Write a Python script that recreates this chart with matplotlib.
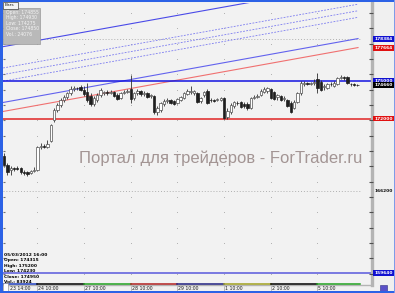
import matplotlib
matplotlib.use("Agg")
import matplotlib.pyplot as plt
import numpy as np
from matplotlib.patches import Rectangle
import matplotlib.transforms as mtransforms

# ---------------- data (hourly bars, 23 Feb 14:00 .. 5 Mar) ----------------
opens = [169000, 168280, 167880, 168040, 168040, 168040, 167720, 167720, 167640, 167800,
         167880, 169720, 169800, 169720, 170200, 171880, 172680, 173080, 173480, 173720,
         174040, 174360, 174440, 174520, 174280, 174120, 173800, 173160, 173480, 173880,
         174040, 174120, 174040, 174120, 173880, 173640, 174040, 174120, 174360, 173640,
         174040, 174200, 173960, 174040, 173800, 173800, 172520, 172680, 173160, 173400,
         173480, 173400, 173240, 173480, 173640, 173960, 174120, 174040, 174040, 173400,
         173880, 174200, 173480, 173480, 173480, 173480, 173640, 172120, 172520, 173000,
         173240, 173320, 173160, 173160, 172840, 173640, 173720, 173880, 174120, 174200,
         174360, 174120, 173720, 173800, 173560, 173480, 173240, 172840, 173320, 174040,
         174760, 174840, 174760, 174840, 175160, 174920, 174520, 174440, 174760, 174600,
         174760, 175240, 175320, 175320, 174760, 174760, 174680]
highs = [169240, 168440, 168200, 168120, 168200, 168120, 167880, 167800, 167880, 168120,
         169800, 170040, 169960, 170280, 171560, 172840, 173240, 173640, 173880, 174120,
         174600, 174600, 174520, 174680, 174600, 174840, 174040, 173800, 174040, 174440,
         174200, 174280, 174280, 174200, 174040, 174120, 174280, 174360, 175480, 174120,
         174360, 174280, 174200, 174120, 173960, 173880, 173000, 173320, 173560, 173640,
         173560, 173480, 173640, 173800, 174120, 174360, 174600, 174280, 174120, 173720,
         174200, 174360, 173640, 173560, 173640, 173720, 173720, 172840, 173240, 173400,
         173400, 173400, 173320, 173320, 173720, 173880, 173960, 174360, 174520, 174520,
         174440, 174200, 173960, 173880, 173800, 173560, 173400, 173480, 174120, 175000,
         175000, 174920, 174920, 175160, 175640, 175080, 174760, 174840, 174920, 175000,
         175320, 175480, 175400, 175400, 174840, 174840, 174760]
lows = [168120, 167480, 167480, 167800, 167880, 167560, 167480, 167400, 167560, 167720,
        167800, 169560, 169640, 169640, 170120, 171720, 172520, 172920, 173320, 173560,
        173880, 174200, 174280, 174200, 173800, 173320, 173000, 173000, 173320, 173720,
        173880, 173880, 173960, 173720, 173480, 173560, 173960, 174040, 173240, 173480,
        173880, 173800, 173800, 173640, 173640, 172360, 172280, 172520, 173000, 173240,
        173160, 173080, 173160, 173400, 173560, 173880, 173960, 173880, 173240, 173240,
        173720, 173160, 173320, 173320, 173400, 173400, 171960, 171960, 172360, 172840,
        173080, 172840, 172840, 172680, 172760, 173560, 173640, 173800, 174040, 174040,
        173560, 173480, 173480, 173400, 173400, 172920, 172440, 172760, 173240, 173880,
        174600, 174680, 174680, 174680, 174040, 174200, 174280, 174360, 174600, 174520,
        174680, 175160, 175080, 174760, 174600, 174600, 174600]
closes = [168280, 167720, 168040, 167960, 168000, 167720, 167640, 167560, 167800, 167880,
          169720, 169800, 169760, 169960, 171480, 172680, 173080, 173480, 173720, 174040,
          174360, 174440, 174420, 174280, 173960, 173480, 173160, 173640, 173880, 174280,
          174120, 174040, 174120, 173800, 173560, 174040, 174120, 174200, 173560, 174040,
          174200, 173960, 174040, 173720, 173880, 172520, 172840, 173240, 173400, 173480,
          173240, 173160, 173560, 173720, 174040, 174200, 174200, 174200, 173320, 173640,
          174120, 173240, 173460, 173400, 173560, 173640, 172040, 172600, 173080, 173320,
          173220, 172920, 173000, 172840, 173640, 173720, 173800, 174200, 174360, 174440,
          173640, 173560, 173880, 173480, 173640, 173000, 172520, 173320, 174040, 174840,
          174840, 174760, 174840, 174920, 174440, 174280, 174600, 174760, 174740, 174840,
          175240, 175320, 175240, 174840, 174740, 174680, 174660]

time_labels = ["23 14:00", "24 10:00", "27 10:00", "28 10:00", "29 10:00",
               "1 10:00", "2 10:00", "5 10:00"]
time_label_bars = [0, 10, 24, 38, 52, 66, 80, 94]
session_colors = ['#2040c0', '#000000', '#20a020', '#b02020', '#202080',
                  '#a0a020', '#000000', '#20a020']

channel_bars = [0, 106]
channel_upper = [177760, 182832]
channel_lower = [173296, 178384]
trend_red = [172576, 177664]
fib_levels = [0.382, 0.5, 0.618]

level_blue = 175000
level_red = 172000
level_bottom = 159640
dotted_levels = [178360, 166200]

info_top = ["Open: 174855", "High: 174930", "Low: 174275", "Close: 174850", "Vol.: 24076"]
info_bottom = ["05/03/2012 16:00", "Open: 174315", "High: 175200", "Low: 174230",
               "Close: 174950", "Vol.: 83924"]

# ---------------- figure ----------------
W, H = 395, 293
fig = plt.figure(figsize=(W / 100, H / 100), dpi=100)
fig.patch.set_facecolor('#f0f0f0')


def rect(x0, y0, x1, y1):
    return [x0 / W, 1 - y1 / H, (x1 - x0) / W, (y1 - y0) / H]


ax = fig.add_axes(rect(3, 3, 372, 285))
ax.set_facecolor('#f2f2f2')
YMIN, YMAX = 158680, 181240
ax.set_xlim(-0.3, 110.4)
ax.set_ylim(YMIN, YMAX)
ax.set_xticks([])
ax.set_yticks([])
for s in ['top', 'left']:
    ax.spines[s].set_visible(False)
ax.spines['right'].set_color('#b4b4b4')
ax.spines['right'].set_linewidth(2.4)
ax.spines['bottom'].set_color('#b4b4b4')
ax.spines['bottom'].set_linewidth(1.0)

n = len(opens)
xs = np.arange(n)
o = np.array(opens, float)
c = np.array(closes, float)
h = np.maximum(np.array(highs, float), np.maximum(o, c))
l = np.minimum(np.array(lows, float), np.minimum(o, c))

# grid dots
grid_y = 180440 - 1226.7 * np.arange(18)
grid_x = np.array(time_label_bars[1:])
gx, gy = np.meshgrid(grid_x, grid_y)
ax.scatter(gx.ravel(), gy.ravel(), s=0.4, color='#a8a8a8', lw=0, zorder=1)
tr_r = mtransforms.blended_transform_factory(ax.transAxes, ax.transData)
ax.plot(np.full(len(grid_y), 0.997), grid_y, ls='none', marker='_', ms=2.5,
        mew=0.8, color='#505050', transform=tr_r, clip_on=False, zorder=6)
ax.plot(np.full(len(grid_y), 0.003), grid_y, ls='none', marker='_', ms=2,
        mew=0.8, color='#707070', transform=tr_r, clip_on=False, zorder=6)

# dotted horizontal lines
ax.hlines(dotted_levels, -0.3, 106.8, colors='#b0b0b0', lw=0.7,
          linestyles=(0, (1, 2)), zorder=1)

# channel
xl = np.array([-1.2, 106.2])


def extend(vals):
    slope = (vals[1] - vals[0]) / (channel_bars[1] - channel_bars[0])
    return vals[0] + slope * (xl - channel_bars[0])


up_l = extend(channel_upper)
lo_l = extend(channel_lower)
red_l = extend(trend_red)
ax.plot(xl, up_l, color='#4a4ae8', lw=0.8, zorder=2)
ax.plot(xl, lo_l, color='#6262ee', lw=0.8, zorder=2)
ax.plot(xl, red_l, color='#f07070', lw=0.8, zorder=2)
for f in fib_levels:
    ax.plot(xl, up_l + f * (lo_l - up_l), color='#7c7cf0', lw=0.6,
            ls=(0, (2.2, 1.6)), zorder=2)

# horizontal levels
ax.axhline(level_blue, color='#1414e0', lw=1.1, zorder=2)
ax.axhline(level_red, color='#e02424', lw=1.1, zorder=2)
ax.axhline(level_bottom, color='#7070e0', lw=1.3, zorder=2)

# watermark
ax.text((221 - 3) / 369, (285 - 158) / 282, "Портал для трейдеров - ForTrader.ru",
        transform=ax.transAxes, ha='center', va='center', fontsize=12,
        family=['Liberation Sans', 'DejaVu Sans'], color='#a39594', zorder=2)

# candles
up = c >= o
ax.vlines(xs, l, h, color='#303030', lw=0.6, zorder=3)
body_b = np.minimum(o, c)
body_h = np.maximum(np.abs(c - o), 45)
ax.bar(xs[up], body_h[up], bottom=body_b[up], width=0.7, color='white',
       edgecolor='#505050', lw=0.5, zorder=4)
ax.bar(xs[~up], body_h[~up], bottom=body_b[~up], width=0.7, color='#1e1e1e',
       edgecolor='#1e1e1e', lw=0.5, zorder=4)

# session colour strips and time labels
tr_b = mtransforms.blended_transform_factory(ax.transData, ax.transAxes)
bounds = list(time_label_bars) + [106.8]
bounds[0] = -0.3
for i, col in enumerate(session_colors):
    ax.plot([bounds[i], bounds[i + 1]], [0.002, 0.002], color=col, lw=1.1,
            transform=tr_b, clip_on=False, zorder=7)
for i, (b, lab) in enumerate(zip(time_label_bars, time_labels)):
    xpos = b + (0.3 if i else 1.8)
    ax.text(xpos, -0.013, lab, transform=tr_b, ha='left', va='center',
            fontsize=3.3, color='#202020', clip_on=False)
    if i:
        ax.plot([b, b], [-0.002, -0.022], color='#909090', lw=0.4,
                transform=tr_b, clip_on=False)

# right price panel
rax = fig.add_axes(rect(373, 3, 394, 285))
rax.set_xlim(0, 1)
rax.set_ylim(YMIN, YMAX)
rax.axis('off')
right_labels = [(lo_l[1] - 48 * 0.2, '#1010d0'), (red_l[1] - 48 * 0.2, '#e01010'),
                (level_blue, '#1010d0'), (closes[-1], '#000000'),
                (level_red, '#e01010'), (dotted_levels[1], None),
                (level_bottom, '#1010d0')]
for val, col in right_labels:
    if col is not None:
        rax.add_patch(Rectangle((0.0, val - 230), 1.0, 460, color=col, lw=0))
        tc = 'white'
    else:
        tc = '#101010'
    rax.text(0.5, val, f"{val:.0f}", ha='center', va='center', fontsize=3.2,
             color=tc, fontweight='bold')

# info box top-left
fig.patches.append(Rectangle((3 / W, 1 - 44 / H), 37 / W, 36 / H, transform=fig.transFigure,
                             facecolor='#b9b9b9', edgecolor='#9a9a9a', lw=0.5))
fig.patches.append(Rectangle((3 / W, 1 - 9 / H), 15 / W, 7 / H, transform=fig.transFigure,
                             facecolor='#f4f4f4', edgecolor='#404040', lw=0.5))
fig.text(5 / W, 1 - 5.5 / H, "Bars", fontsize=3.2, color='#202020', va='center')
for k, t in enumerate(info_top):
    fig.text(6 / W, 1 - (12.5 + 5.4 * k) / H, t, fontsize=3.3, color='#f4f4f4', va='center')

# info bottom-left
for k, t in enumerate(info_bottom):
    fig.text(4 / W, 1 - (255 + 5.4 * k) / H, t, fontsize=3.2, color='#000000',
             va='center', fontweight='bold')

# small widgets
fig.patches.append(Rectangle((3 / W, 1 - 291 / H), 5 / W, 8 / H, transform=fig.transFigure,
                             facecolor='white', edgecolor='#808080', lw=0.4))
fig.patches.append(Rectangle((380 / W, 1 - 291 / H), 7 / W, 6 / H, transform=fig.transFigure,
                             facecolor='#5a50c8', edgecolor='#303080', lw=0.4))

# window frame
frame = '#2c62e6'
fig.patches.append(Rectangle((0, 0), 3 / W, 1, transform=fig.transFigure, color=frame, lw=0))
fig.patches.append(Rectangle((0, 1 - 2 / H), 1, 2 / H, transform=fig.transFigure, color=frame, lw=0))
fig.patches.append(Rectangle((0, 0), 1, 2 / H, transform=fig.transFigure, color=frame, lw=0))
fig.patches.append(Rectangle((1 - 1.5 / W, 0), 1.5 / W, 1, transform=fig.transFigure,
                             color='#7f9be8', lw=0))

fig.savefig("out.png", dpi=100)
